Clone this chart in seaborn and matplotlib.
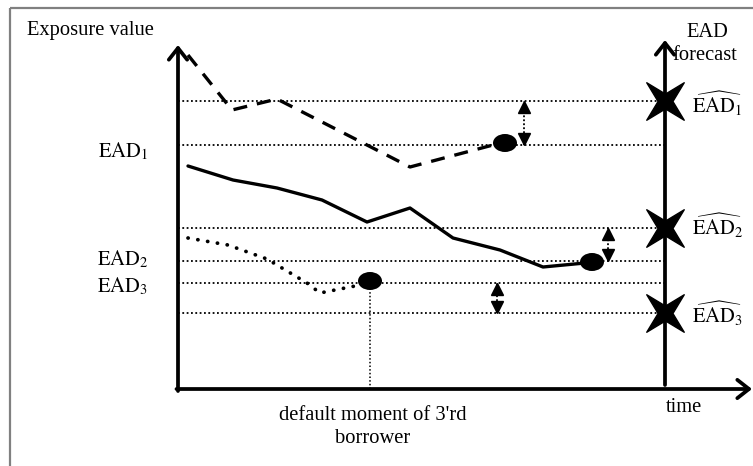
import numpy as np
import pandas as pd
import matplotlib.pyplot as plt
from matplotlib.patches import Ellipse
from matplotlib.path import Path
import seaborn as sns

sns.set_theme(style="white")
plt.rcParams['font.family'] = ['Liberation Serif', 'DejaVu Serif']
plt.rcParams['mathtext.fontset'] = 'stix'
plt.rcParams['text.color'] = 'black'

# --- data (time on x, exposure value on y; canvas units) ---
# borrower 1 (dashed)
b1_time = [188, 232, 277, 410, 493]
b1_value = [411, 356, 367, 299, 321]
b1_default = (505, 323)
# borrower 2 (solid)
b2_time = [188, 233, 277, 322, 367, 410, 453, 500, 543, 585]
b2_value = [300, 286, 278, 266, 244, 258, 228, 216, 199, 203]
b2_default = (592, 204)
# borrower 3 (dotted)
b3_time = [188, 228, 267, 307, 320, 355]
b3_value = [228, 221, 207, 183, 173, 180]
b3_default = (370, 185)

# actual EAD levels and forecasted EAD levels
ead_levels = [321, 205, 183]
ead_hat_levels = [365, 238, 153]
ead_labels = [r'$\mathrm{EAD}_1$', r'$\mathrm{EAD}_2$', r'$\mathrm{EAD}_3$']
ead_hat_labels = [r'$\widehat{\mathrm{EAD}}_1$', r'$\widehat{\mathrm{EAD}}_2$',
                  r'$\widehat{\mathrm{EAD}}_3$']
gap_arrow_x = [524, 608, 497]

# axes geometry
origin = (178, 77)
y_top = 421
x_end = 752
forecast_x = 665
forecast_top = 426

fig = plt.figure(figsize=(7.53, 4.66), dpi=100)
ax = fig.add_axes([0, 0, 1, 1])

# frame (gray border, left & top)
ax.plot([10, 10], [0, 458], color='#808080', lw=1.6, solid_capstyle='butt')
ax.plot([10, 753], [458, 458], color='#808080', lw=1.6, solid_capstyle='butt')

# horizontal dotted reference lines
for lvl in ead_levels + ead_hat_levels:
    ax.plot([origin[0], forecast_x], [lvl, lvl], color='black', lw=1.3,
            linestyle=(0, (1, 1.4)))

# vertical dotted line at default moment of borrower 3
ax.plot([b3_default[0], b3_default[0]], [origin[1], b3_default[1]], color='black',
        lw=1.1, linestyle=(0, (1, 1.4)))

# axes with arrows
arrow_style = '->,head_length=0.7,head_width=0.55'
ax.annotate('', xy=(origin[0], y_top), xytext=(origin[0], origin[1] - 2),
            arrowprops=dict(arrowstyle=arrow_style, lw=2.7, color='black',
                            shrinkA=0, shrinkB=0))
ax.annotate('', xy=(x_end, origin[1]), xytext=(origin[0] - 1.5, origin[1]),
            arrowprops=dict(arrowstyle=arrow_style, lw=2.7, color='black',
                            shrinkA=0, shrinkB=0))
ax.annotate('', xy=(forecast_x, forecast_top), xytext=(forecast_x, origin[1] + 4),
            arrowprops=dict(arrowstyle=arrow_style, lw=2.7, color='black',
                            shrinkA=0, shrinkB=0))

# borrower curves
df = pd.concat([
    pd.DataFrame({'t': b1_time, 'v': b1_value, 'b': 'b1'}),
    pd.DataFrame({'t': b2_time, 'v': b2_value, 'b': 'b2'}),
    pd.DataFrame({'t': b3_time, 'v': b3_value, 'b': 'b3'}),
])
styles = {
    'b1': dict(linestyle=(0, (4.2, 3.0)), lw=2.4),
    'b2': dict(linestyle='-', lw=2.4),
    'b3': dict(linestyle=(0, (0.05, 2.6)), lw=2.7, dash_capstyle='round'),
}
for name, sub in df.groupby('b'):
    sns.lineplot(data=sub, x='t', y='v', ax=ax, color='black', sort=False,
                 estimator=None, legend=False, **styles[name])

# default moments
for c in [b1_default, b2_default, b3_default]:
    ax.add_patch(Ellipse(c, 24, 18, facecolor='black', edgecolor='none', zorder=5))

# forecast stars (slim four-pointed star)
ang_out = np.deg2rad([45, 135, 225, 315])
ang_in = np.deg2rad([90, 180, 270, 360])
verts = []
for ao, ai in zip(ang_out, ang_in):
    verts.append((np.cos(ao), np.sin(ao)))
    verts.append((0.28 * np.cos(ai), 0.28 * np.sin(ai)))
verts.append(verts[0])
star = Path(verts, closed=True)
ax.plot([forecast_x] * 3, ead_hat_levels, ls='none', marker=star,
        ms=27, color='black', zorder=6)

# double arrows between forecast and actual
tri = 9  # marker size in points (~12.5 px)
half = tri * 100 / 72 / 2
for x, lo, hi in zip(gap_arrow_x, ead_levels, ead_hat_levels):
    a, b = min(lo, hi), max(lo, hi)
    ax.plot([x, x], [a, b], color='black', lw=1.3, linestyle=(0, (1, 1.2)))
    ax.plot([x], [b - half], marker='^', ms=tri, color='black', ls='none')
    ax.plot([x], [a + half], marker='v', ms=tri, color='black', ls='none')

ax.set_xlabel('')
ax.set_ylabel('')
ax.set_xlim(0, 753)
ax.set_ylim(0, 466)
ax.axis('off')

# text
fs = 14.8
ax.text(27, 431, 'Exposure value', fontsize=fs, ha='left', va='baseline')
ax.text(707, 429, 'EAD', fontsize=fs, ha='center', va='baseline')
ax.text(705, 406, 'forecast', fontsize=fs, ha='center', va='baseline')
for lbl, y in zip(ead_labels, [309, 201, 174]):
    ax.text(148, y, lbl, fontsize=fs, ha='right', va='baseline')
for lbl, y in zip(ead_hat_labels, [353, 231, 143]):
    ax.text(692, y, lbl, fontsize=fs, ha='left', va='baseline')
ax.text(684, 54, 'time', fontsize=fs, ha='center', va='baseline')
ax.text(373, 46, "default moment of 3'rd", fontsize=fs, ha='center', va='baseline')
ax.text(373, 23, 'borrower', fontsize=fs, ha='center', va='baseline')

fig.savefig('out.png', dpi=100)
